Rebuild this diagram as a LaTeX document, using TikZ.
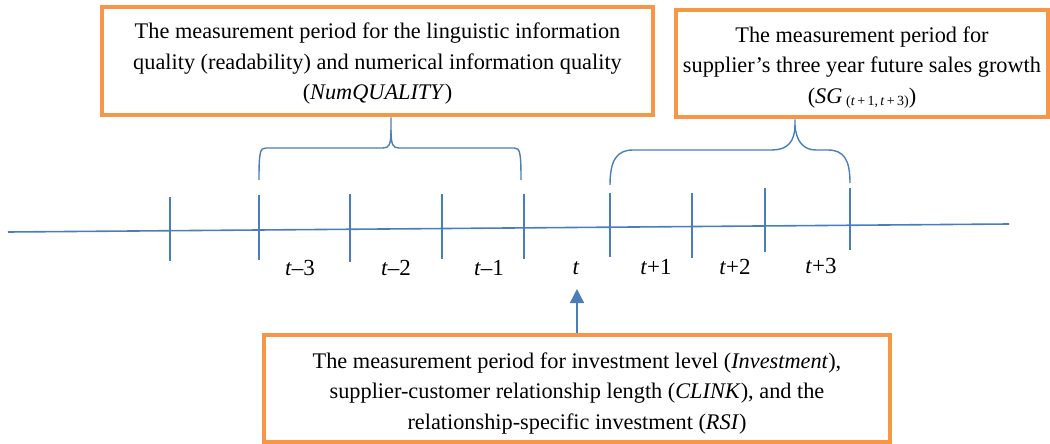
\documentclass[tikz,border=0pt]{standalone}
\usepackage{fontspec}
\setmainfont{Liberation Serif}
\usetikzlibrary{arrows.meta}
\definecolor{boxorange}{RGB}{247,150,70}
\definecolor{lineblue}{RGB}{74,126,187}
\tikzset{
  obox/.style={draw=boxorange, line width=4.5pt, fill=white, inner sep=0pt},
  otext/.style={align=center, inner sep=0pt, font=\fontsize{22.3}{30.5}\selectfont},
  bl/.style={draw=lineblue, line width=1.6pt},
  tlab/.style={font=\fontsize{23}{26}\selectfont, inner sep=0pt}
}
\begin{document}
\begin{tikzpicture}[x=1pt,y=-1pt]
\useasboundingbox (0,0) rectangle (1050,444);
% boxes
\node[obox, minimum width=551pt, minimum height=108pt] (b1) at (377.5,61) {};
\node[otext, yshift=-3pt] (b1t) at (b1.center)
  {The measurement period for the linguistic information\\
   quality (readability) and numerical information quality\\
   (\textit{NumQUALITY})};
\node[obox, minimum width=372pt, minimum height=107pt] (b2) at (862,63.5) {};
\node[otext, yshift=-4pt] (b2t) at (b2.center)
  {The measurement period for\\
   supplier’s three year future sales growth\\
   (\textit{SG}\,\raisebox{-2pt}{\fontsize{14}{14}\selectfont(\textit{t}\,+\,1,\,\textit{t}\,+\,3)})};
\node[obox, minimum width=626pt, minimum height=107pt] (b3) at (577,388.5) {};
\node[otext, yshift=-5pt] (b3t) at (b3.center)
  {The measurement period for investment level (\textit{Investment}),\\
   supplier-customer relationship length (\textit{CLINK}), and the\\
   relationship-specific investment (\textit{RSI})};
% timeline
\coordinate (tl0) at (8,232);
\coordinate (tl1) at (1009,224);
\draw[bl] (tl0) -- (tl1);
% ticks
\draw[bl] (170,197) -- (170,261);
\draw[bl] (259,195) -- (259,260);
\draw[bl] (350,194) -- (350,262);
\draw[bl] (442,194) -- (442,259);
\draw[bl] (524,194) -- (524,259);
\draw[bl] (610,193) -- (610,257);
\draw[bl] (692,193) -- (692,258);
\draw[bl] (765,188) -- (765,252);
\draw[bl] (850,188) -- (850,250);
% labels
\node[tlab] (l1) at (300,268) {\textit{t}–3};
\node[tlab] (l2) at (396,268) {\textit{t}–2};
\node[tlab] (l3) at (489,268) {\textit{t}–1};
\node[tlab] (l4) at (576,268) {\textit{t}};
\node[tlab] (l5) at (656,267) {\textit{t}+1};
\node[tlab] (l6) at (735,267) {\textit{t}+2};
\node[tlab] (l7) at (821,266) {\textit{t}+3};
% left brace
\coordinate (lb) at (b1.south -| 391,0);
\draw[bl, line width=1.4pt] (259,180) .. controls (259,152) and (260,148) .. (266,148) -- (383,148)
  .. controls (389,148) and (391,145) .. (391,130) -- (lb);
\draw[bl, line width=1.4pt] (391,130) .. controls (391,145) and (393,148) .. (399,148) -- (514,148)
  .. controls (520,148) and (521,152) .. (521,180);
% right brace
\coordinate (rb) at (b2.south -| 795,0);
\draw[bl, line width=1.4pt] (610,185) .. controls (610,160) and (617,150) .. (633,150) -- (772,150)
  .. controls (787,150) and (795,142) .. (795,125) -- (rb);
\draw[bl, line width=1.4pt] (795,125) .. controls (796,142) and (804,150) .. (816,150) -- (828,150)
  .. controls (844,150) and (850,160) .. (850,183);
% arrow
\coordinate (at) at (577,289);
\draw[bl, line width=1.4pt, -{Triangle[length=14pt,width=14pt]}] (b3.north -| at) -- (at);
\end{tikzpicture}
\end{document}
